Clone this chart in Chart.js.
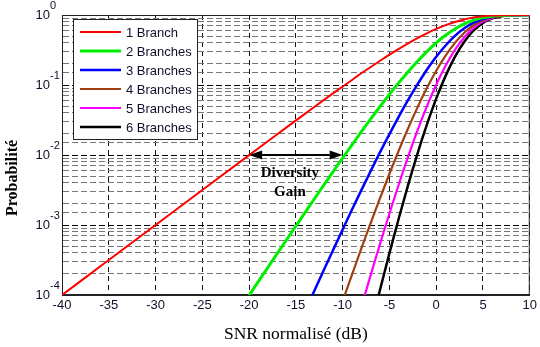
<!DOCTYPE html>
<html>
<head>
<meta charset="utf-8">
<script src="https://cdn.jsdelivr.net/npm/chart.js@4.4.0/dist/chart.umd.min.js"></script>
<style>
body{margin:0;background:#fff;}
#wrap{width:540px;height:347px;}
</style>
</head>
<body>
<div id="wrap"><canvas id="probChart" width="540" height="347"></canvas></div>
<script>
var snrDb = [-40, -35, -30, -25, -20, -18, -16, -14, -13, -12, -11, -10, -9, -8, -7, -6, -5, -4, -3, -2, -1, 0, 1, 2, 3, 4, 5, 6, 7, 8, 10];

var branch1 = [1.0e-4, 3.16e-4, 1.0e-3, 3.16e-3, 9.95e-3, 0.0157, 0.0248, 0.0390, 0.0489, 0.0612, 0.0764, 0.0952, 0.118, 0.147, 0.181, 0.222, 0.271, 0.328, 0.394, 0.468, 0.548, 0.632, 0.716, 0.795, 0.864, 0.919, 0.958, 0.981, 0.993, 0.998, 1.0];
var branch2 = [null, null, null, 1.0e-5, 9.9e-5, 2.47e-4, 6.16e-4, 1.52e-3, 2.39e-3, 3.74e-3, 5.83e-3, 9.06e-3, 0.0140, 0.0215, 0.0327, 0.0493, 0.0735, 0.108, 0.155, 0.219, 0.300, 0.400, 0.513, 0.632, 0.747, 0.844, 0.917, 0.963, 0.987, 0.996, 1.0];
var branch3 = [null, null, null, null, null, null, null, 5.95e-5, 1.17e-4, 2.29e-4, 4.45e-4, 8.62e-4, 1.66e-3, 3.15e-3, 5.92e-3, 0.0110, 0.0199, 0.0354, 0.0612, 0.102, 0.165, 0.253, 0.367, 0.503, 0.645, 0.776, 0.878, 0.945, 0.980, 0.995, 1.0];
var branch4 = [null, null, null, null, null, null, null, null, null, null, 3.40e-5, 8.20e-5, 1.96e-4, 4.62e-4, 1.07e-3, 2.43e-3, 5.40e-3, 0.0116, 0.0241, 0.0479, 0.0903, 0.160, 0.263, 0.400, 0.557, 0.713, 0.841, 0.927, 0.973, 0.993, 1.0];
var branch5 = [null, null, null, null, null, null, null, null, null, null, null, null, null, 6.77e-5, 1.94e-4, 5.41e-4, 1.46e-3, 3.82e-3, 9.51e-3, 0.0224, 0.0495, 0.101, 0.188, 0.318, 0.482, 0.655, 0.806, 0.910, 0.967, 0.991, 1.0];
var branch6 = [null, null, null, null, null, null, null, null, null, null, null, null, null, null, 3.50e-5, 1.20e-4, 3.97e-4, 1.25e-3, 3.75e-3, 0.0105, 0.0271, 0.0638, 0.135, 0.253, 0.416, 0.602, 0.772, 0.893, 0.960, 0.989, 1.0];

var seriesLabels = ["1 Branch", "2 Branches", "3 Branches", "4 Branches", "5 Branches", "6 Branches"];
var seriesColors = ["#ff0000", "#00ee00", "#0000ff", "#a0400f", "#ff00ff", "#000000"];
var seriesWidths = [2, 3, 2.5, 2.2, 2.2, 2.5];

var xTicksMin = -40, xTicksMax = 10, xTicksStep = 5;
var yMin = 1e-4, yMax = 1;

// annotation: diversity gain between 1 and 2 branches at P = 1e-2
var gainFrom = -20, gainTo = -10, gainLevel = 0.01;

function toPoints(ys){
    var out = [];
    for (var i = 0; i < snrDb.length; i++) {
        out.push({x: snrDb[i], y: ys[i]});
    }
    return out;
}

function isDecade(v){
    var e = Math.log10(v);
    return Math.abs(e - Math.round(e)) < 1e-6;
}

var allSeries = [branch1, branch2, branch3, branch4, branch5, branch6];
var datasets = [];
for (var s = 0; s < allSeries.length; s++) {
    datasets.push({
        label: seriesLabels[s],
        data: toPoints(allSeries[s]),
        borderColor: seriesColors[s],
        backgroundColor: seriesColors[s],
        borderWidth: seriesWidths[s],
        showLine: true,
        pointRadius: 0,
        cubicInterpolationMode: 'monotone'
    });
}

var framePlugin = {
    id: 'frame',
    beforeDatasetsDraw: function(chart){
        var a = chart.chartArea, ctx = chart.ctx;
        ctx.save();
        ctx.strokeStyle = '#222';
        ctx.lineWidth = 1;
        ctx.strokeRect(a.left + 0.5, a.top + 0.5, a.right - a.left - 1, a.bottom - a.top - 1);
        ctx.restore();
    }
};

// exponents of the 10^n labels and the rotated y title
var axisTextPlugin = {
    id: 'axisText',
    afterDraw: function(chart){
        var ctx = chart.ctx, ys = chart.scales.y;
        ctx.save();
        ctx.fillStyle = '#10102a';
        ctx.font = '11px "Liberation Sans", Arial, sans-serif';
        ctx.textAlign = 'left';
        ctx.textBaseline = 'middle';
        ys.ticks.forEach(function(t){
            if (!isDecade(t.value)) return;
            var e = Math.round(Math.log10(t.value));
            ctx.fillText(String(e), 50, ys.getPixelForValue(t.value) - 9);
        });
        ctx.fillStyle = '#000';
        ctx.font = 'bold 16px "Liberation Serif", "Times New Roman", serif';
        ctx.textAlign = 'center';
        ctx.translate(13, 178);
        ctx.rotate(-Math.PI / 2);
        ctx.fillText('Probabilit\u00e9', 0, 0);
        ctx.restore();
    }
};

var legendPlugin = {
    id: 'boxLegend',
    afterDatasetsDraw: function(chart){
        var a = chart.chartArea, ctx = chart.ctx;
        var bx = a.left + 11, by = a.top + 4, bw = 124, bh = 120;
        ctx.save();
        ctx.fillStyle = '#fff';
        ctx.fillRect(bx, by, bw, bh);
        ctx.strokeStyle = '#222';
        ctx.lineWidth = 1;
        ctx.strokeRect(bx + 0.5, by + 0.5, bw, bh);
        ctx.font = '13px "Liberation Sans", Arial, sans-serif';
        ctx.textBaseline = 'middle';
        ctx.textAlign = 'left';
        chart.data.datasets.forEach(function(ds, i){
            var ry = by + 13 + i * 19;
            ctx.strokeStyle = ds.borderColor;
            ctx.lineWidth = ds.borderWidth;
            ctx.beginPath();
            ctx.moveTo(bx + 7, ry);
            ctx.lineTo(bx + 48, ry);
            ctx.stroke();
            ctx.fillStyle = '#10102a';
            ctx.fillText(ds.label, bx + 53, ry + 1);
        });
        ctx.restore();
    }
};

var gainPlugin = {
    id: 'gainArrow',
    afterDatasetsDraw: function(chart){
        var ctx = chart.ctx;
        var xs = chart.scales.x, ys = chart.scales.y;
        var x1 = xs.getPixelForValue(gainFrom), x2 = xs.getPixelForValue(gainTo);
        var y = ys.getPixelForValue(gainLevel);
        var head = 13, half = 4.5;
        ctx.save();
        ctx.strokeStyle = '#000';
        ctx.fillStyle = '#000';
        ctx.lineWidth = 2;
        ctx.beginPath();
        ctx.moveTo(x1 + head, y);
        ctx.lineTo(x2 - head, y);
        ctx.stroke();
        ctx.beginPath();
        ctx.moveTo(x1, y);
        ctx.lineTo(x1 + head, y - half);
        ctx.lineTo(x1 + head, y + half);
        ctx.closePath();
        ctx.fill();
        ctx.beginPath();
        ctx.moveTo(x2, y);
        ctx.lineTo(x2 - head, y - half);
        ctx.lineTo(x2 - head, y + half);
        ctx.closePath();
        ctx.fill();
        var mid = (x1 + x2) / 2 - 6;
        ctx.font = 'bold 15px "Liberation Serif", "Times New Roman", serif';
        ctx.textAlign = 'center';
        ctx.textBaseline = 'middle';
        ctx.fillText('Diversity', mid, y + 18);
        ctx.fillText('Gain', mid, y + 37);
        ctx.restore();
    }
};

var probCanvas = document.getElementById('probChart');
var probChart = new Chart(probCanvas, {
    type: 'scatter',
    data: {datasets: datasets},
    options: {
        responsive: false,
        animation: false,
        devicePixelRatio: 1,
        layout: {padding: {left: 0, right: 8, top: 15, bottom: 0}},
        plugins: {
            legend: {display: false},
            tooltip: {enabled: false}
        },
        scales: {
            x: {
                type: 'linear',
                min: xTicksMin,
                max: xTicksMax,
                afterFit: function(scale){ scale.height = 52; },
                ticks: {
                    stepSize: xTicksStep,
                    color: '#10102a',
                    padding: 3,
                    font: {family: '"Liberation Sans", Arial, sans-serif', size: 13}
                },
                grid: {color: '#111', drawTicks: false},
                border: {display: true, color: '#222', dash: [5, 4]},
                title: {
                    display: true,
                    text: 'SNR normalis\u00e9 (dB)',
                    color: '#000',
                    padding: {top: 0, bottom: 2},
                    font: {family: '"Liberation Serif", "Times New Roman", serif', size: 17.5}
                }
            },
            y: {
                type: 'logarithmic',
                min: yMin,
                max: yMax,
                afterFit: function(scale){
                    scale.width = 62;
                    scale.paddingTop = 0;
                    scale.paddingBottom = 0;
                },
                ticks: {
                    autoSkip: false,
                    color: '#10102a',
                    padding: 12,
                    font: {family: '"Liberation Sans", Arial, sans-serif', size: 13},
                    callback: function(value){
                        return isDecade(value) ? '10' : '';
                    }
                },
                grid: {
                    drawTicks: false,
                    color: function(ctx){
                        var v = ctx.tick ? ctx.tick.value : 1;
                        return isDecade(v) ? '#000' : '#777';
                    }
                },
                border: {display: true, color: '#222', dash: [6, 3]}
            }
        }
    },
    plugins: [framePlugin, legendPlugin, gainPlugin, axisTextPlugin]
});
</script>
</body>
</html>
